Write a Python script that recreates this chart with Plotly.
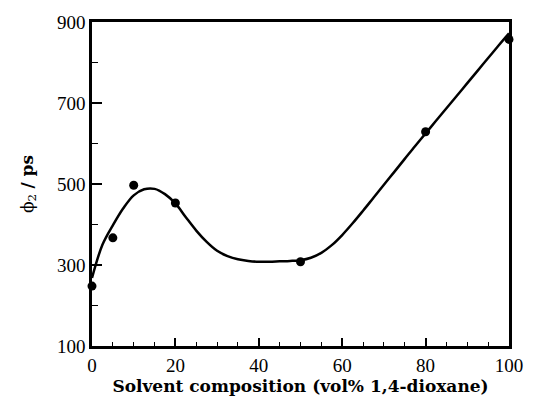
import plotly.graph_objects as go

# measured points
pt_x = [0, 5, 10, 20, 50, 80, 100]
pt_y = [248, 367, 497, 453, 308, 629, 857]

# fitted curve (every 2.5 vol%)
curve_x = [0, 2.5, 5, 7.5, 10, 12.5, 15, 17.5, 20, 22.5, 25, 27.5, 30, 32.5, 35, 37.5, 40,
           42.5, 45, 47.5, 50, 52.5, 55, 57.5, 60, 62.5, 65, 67.5, 70, 72.5, 75, 77.5, 80,
           82.5, 85, 87.5, 90, 92.5, 95, 97.5, 100]
curve_y = [268, 350, 398, 440, 472, 487, 488, 475, 452, 418, 385, 357, 335, 322, 314, 310, 308,
           308, 309, 310, 312, 318, 330, 349, 374, 403, 434, 466, 498, 530, 562, 594, 625,
           656, 687, 718, 749, 780, 811, 842, 872]

x_ticks = [0, 20, 40, 60, 80, 100]
y_ticks = [100, 300, 500, 700, 900]

TICKFONT = "Liberation Serif"
TITLEFONT = "DejaVu Serif"

fig = go.Figure()
fig.add_trace(go.Scatter(x=curve_x, y=curve_y, mode="lines",
                         line=dict(color="black", width=2.5, shape="spline", smoothing=1.0),
                         cliponaxis=False, hoverinfo="skip"))
fig.add_trace(go.Scatter(x=pt_x, y=pt_y, mode="markers",
                         marker=dict(color="black", size=9),
                         cliponaxis=False))

fig.update_layout(
    width=535, height=405,
    margin=dict(l=92, r=17, t=22, b=59),
    paper_bgcolor="white", plot_bgcolor="white",
    showlegend=False,
    font=dict(family=TICKFONT, size=19, color="black"),
)
fig.update_xaxes(
    range=[0, 100], tickvals=x_ticks, ticktext=[str(v) for v in x_ticks],
    showgrid=False, zeroline=False,
    showline=True, linecolor="black", linewidth=2.5, mirror=True,
    ticks="inside", ticklen=8, tickwidth=1.5, tickcolor="black",
    minor=dict(ticks="inside", ticklen=4, tickwidth=1.2, tickcolor="black", dtick=5, tick0=0, showgrid=False),
    title=dict(text="<b>Solvent composition (vol% 1,4-dioxane)</b>",
               font=dict(family=TITLEFONT, size=17), standoff=4),
    tickfont=dict(family=TICKFONT, size=19),
)
fig.update_yaxes(
    range=[100, 900], tickvals=y_ticks, ticktext=[str(v) for v in y_ticks],
    showgrid=False, zeroline=False,
    showline=True, linecolor="black", linewidth=2.5, mirror=True,
    ticks="inside", ticklen=10, tickwidth=1.5, tickcolor="black",
    minor=dict(ticks="inside", ticklen=6, tickwidth=1.2, tickcolor="black", dtick=100, tick0=100, showgrid=False),
    title=dict(text="ϕ<sub>2</sub> <b>/ ps</b>", font=dict(family=TITLEFONT, size=17), standoff=20),
    tickfont=dict(family=TICKFONT, size=19),
)

fig.write_html("out.html")
